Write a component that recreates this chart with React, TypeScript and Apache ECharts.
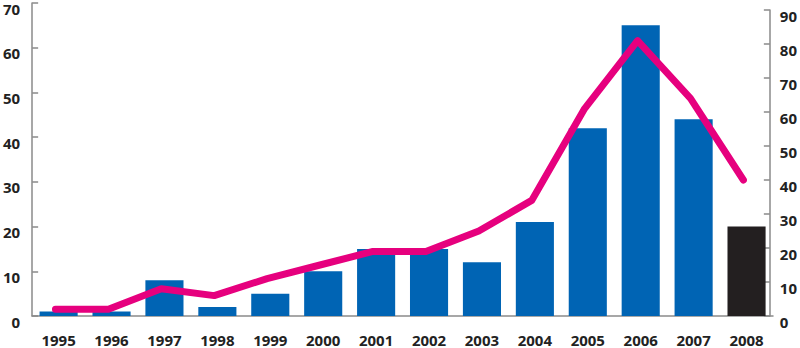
import React, { useEffect, useRef } from "react";
import * as echarts from "echarts";

const years = ["1995","1996","1997","1998","1999","2000","2001","2002","2003","2004","2005","2006","2007","2008"];
const barValues = [1, 1, 8, 2, 5, 10, 15, 15, 12, 21, 42, 65, 44, 20];
const lineValues = [2, 2, 8, 6, 11, 15, 19, 19, 25, 34, 61, 81, 64, 40];
const leftTicks = [0, 10, 20, 30, 40, 50, 60, 70];
const rightTicks = [0, 10, 20, 30, 40, 50, 60, 70, 80, 90];

const BLUE = "#0064b4";
const BLACK = "#231f20";
const MAGENTA = "#e6007e";
const AXIS = "#8a8a8a";
const LABEL = "#222222";
const FONT = "'Open Sans', 'Noto Sans', sans-serif";

export default function App() {
  const ref = useRef<HTMLDivElement>(null);
  useEffect(() => {
    if (!ref.current) return;
    const chart = echarts.init(ref.current, null, { renderer: "svg" });
    const labelStyle = { color: LABEL, fontFamily: FONT, fontWeight: "bold" as const, fontSize: 15 };
    chart.setOption({
      animation: false,
      grid: [
        { left: 29, right: 27, top: 3, bottom: 32 },
        { left: 29, right: 27, top: 10, bottom: 32 },
      ],
      xAxis: [
        {
          type: "category",
          gridIndex: 0,
          data: years,
          boundaryGap: true,
          axisLine: { lineStyle: { color: AXIS, width: 1.5 } },
          axisTick: { inside: true, length: 6, interval: 0, lineStyle: { color: AXIS, width: 1.5 } },
          axisLabel: { ...labelStyle, margin: 16, interval: 0 },
        },
        {
          type: "category",
          gridIndex: 1,
          data: years,
          boundaryGap: true,
          show: false,
        },
      ],
      yAxis: [
        {
          type: "value",
          gridIndex: 0,
          min: 0,
          max: leftTicks[leftTicks.length - 1],
          interval: 10,
          splitLine: { show: false },
          axisLine: { show: true, lineStyle: { color: AXIS, width: 1.5 } },
          axisTick: { show: true, inside: true, length: 6, lineStyle: { color: AXIS, width: 1.5 } },
          axisLabel: { ...labelStyle, margin: 12, verticalAlign: "top", lineHeight: 11 },
        },
        {
          type: "value",
          gridIndex: 1,
          position: "right",
          min: 0,
          max: rightTicks[rightTicks.length - 1],
          interval: 10,
          splitLine: { show: false },
          axisLine: { show: true, lineStyle: { color: AXIS, width: 1.5 } },
          axisTick: { show: true, inside: true, length: 6, lineStyle: { color: AXIS, width: 1.5 } },
          axisLabel: { ...labelStyle, margin: 10, verticalAlign: "top", lineHeight: 11 },
        },
      ],
      series: [
        {
          type: "bar",
          xAxisIndex: 0,
          yAxisIndex: 0,
          barCategoryGap: "28%",
          data: barValues.map((v, i) => ({
            value: v,
            itemStyle: { color: i === barValues.length - 1 ? BLACK : BLUE },
          })),
        },
        {
          type: "line",
          xAxisIndex: 1,
          yAxisIndex: 1,
          data: lineValues,
          showSymbol: false,
          symbol: "none",
          lineStyle: { color: MAGENTA, width: 7, cap: "round", join: "round" },
          z: 5,
        },
      ],
    });
    return () => chart.dispose();
  }, []);
  return <div ref={ref} style={{ width: 800, height: 348, position: "absolute", left: 0, top: 0 }} />;
}
